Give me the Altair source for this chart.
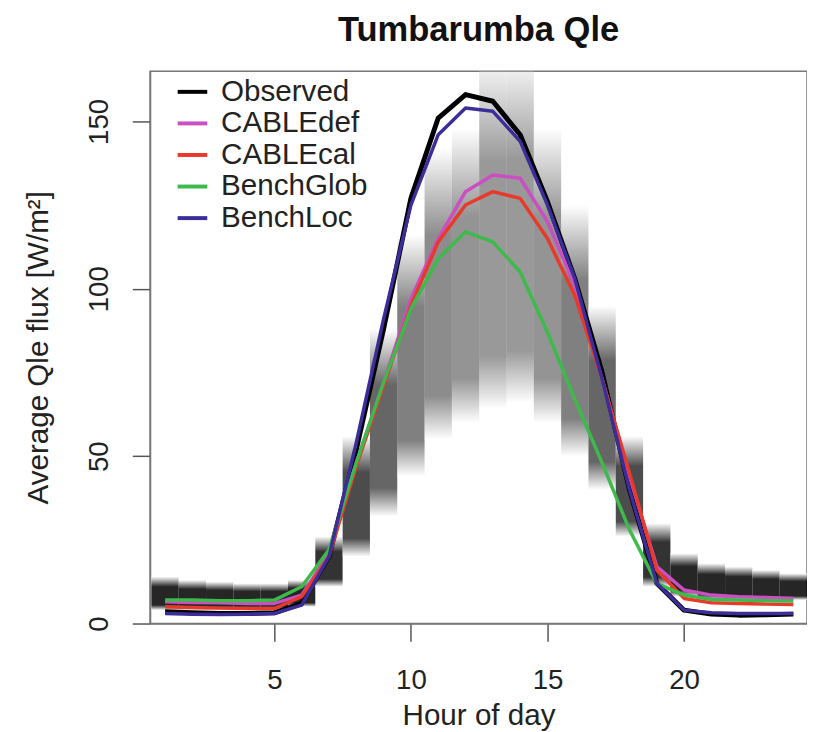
import altair as alt
import pandas as pd

# ---------------- data ----------------
hours = list(range(1, 25))

observed  = [3.5, 3.2, 3.0, 3.0, 3.2, 6.0, 20, 52, 88, 127, 151, 158, 156, 146, 126, 103, 75, 40, 12, 4.0, 2.8, 2.5, 2.6, 2.8]
cable_def = [6.5, 6.3, 6.2, 6.0, 6.0, 8.5, 21, 48, 72, 97, 115, 129, 134, 133, 120, 101, 73, 44, 17, 10, 8.5, 8.0, 7.8, 7.5]
cable_cal = [5.0, 4.8, 4.6, 4.5, 4.5, 8.0, 20, 47, 71, 95, 114, 125, 129, 127, 115, 98, 73, 45, 16, 7.5, 6.2, 6.0, 5.8, 5.7]
bench_glob = [7.0, 7.0, 6.8, 6.8, 7.0, 11, 22, 48, 72, 94, 109, 117, 114, 105, 87, 67, 48, 28, 12, 8.5, 7.2, 7.0, 6.8, 6.7]
bench_loc = [3.0, 2.8, 2.7, 2.8, 3.0, 5.5, 20, 54, 91, 125, 146, 154, 153, 144, 125, 103, 73, 40, 12, 4.0, 3.2, 3.0, 3.0, 3.0]

series_names = ["Observed", "CABLEdef", "CABLEcal", "BenchGlob", "BenchLoc"]
series_colors = ["#000000", "#c94fc2", "#e8392b", "#3dba4b", "#3b2d9a"]

# grey ensemble density columns (extent per hour and darkness)
shade_lo = [4, 4, 4, 4, 4, 5, 11, 20, 32, 44, 55, 60, 64, 66, 60, 50, 40, 26, 11, 8, 7, 7, 7, 7]
shade_hi = [14, 13, 12.5, 12, 12, 13, 26, 56, 88, 116, 142, 148, 170, 170, 148, 125, 95, 56, 30, 21, 18, 17, 16, 15]
shade_dark = [0.85, 0.85, 0.85, 0.85, 0.85, 0.85, 0.8, 0.7, 0.6, 0.5, 0.45, 0.42, 0.4, 0.4, 0.42, 0.5, 0.6, 0.7, 0.8, 0.85, 0.85, 0.85, 0.85, 0.85]

# ---------------- tables ----------------
series_values = [observed, cable_def, cable_cal, bench_glob, bench_loc]
rows = []
for name, vals in zip(series_names, series_values):
    for h, v in zip(hours, vals):
        rows.append({"hour": h, "value": v, "series": name})
lines_df = pd.DataFrame(rows)

band_df = pd.DataFrame({"hour": hours, "lo": shade_lo, "hi": shade_hi, "dark": shade_dark})

FONT = "Liberation Sans"

xscale = alt.Scale(domain=[0.45, 24.5], nice=False, zero=False)
yscale = alt.Scale(domain=[0, 165], nice=False, zero=True)

grad = alt.LinearGradient(
    gradient="linear",
    stops=[
        alt.GradientStop(color="white", offset=0),
        alt.GradientStop(color="black", offset=0.3),
        alt.GradientStop(color="black", offset=0.85),
        alt.GradientStop(color="white", offset=1),
    ],
    x1=0, x2=0, y1=0, y2=1,
)

bands = alt.Chart(band_df).transform_calculate(
    h0="datum.hour - 0.5", h1="datum.hour + 0.5"
).mark_rect(color=grad, clip=True).encode(
    x=alt.X("h0:Q", scale=xscale,
            axis=alt.Axis(values=[5, 10, 15, 20], title="Hour of day")),
    x2="h1:Q",
    y=alt.Y("lo:Q", scale=yscale,
            axis=alt.Axis(values=[0, 50, 100, 150], title="Average Qle flux [W/m²]")),
    y2="hi:Q",
    opacity=alt.Opacity("dark:Q", scale=None, legend=None),
)

lines = alt.Chart(lines_df).mark_line(clip=True, strokeJoin="round").encode(
    x=alt.X("hour:Q", scale=xscale),
    y=alt.Y("value:Q", scale=yscale),
    color=alt.Color(
        "series:N",
        scale=alt.Scale(domain=series_names, range=series_colors),
        sort=series_names,
        legend=alt.Legend(
            title=None, orient="none", legendX=26, legendY=4,
            symbolType="stroke", symbolSize=900, symbolStrokeWidth=4,
            labelFontSize=30, labelFont=FONT, labelColor="#222",
            rowPadding=0, labelOffset=12,
        ),
    ),
    order=alt.Order("hour:Q"),
    strokeWidth=alt.condition(alt.datum.series == "Observed", alt.value(5), alt.value(3.5)),
)

chart = alt.layer(bands, lines).properties(
    width=666, height=560,
    title=alt.TitleParams("Tumbarumba Qle", fontSize=35, font=FONT, fontWeight="bold",
                          anchor="middle", offset=24, color="#111"),
    padding={"left": 15, "top": 0, "right": 0, "bottom": 0},
).configure_view(
    stroke="#777", strokeWidth=1.5
).configure_axis(
    grid=False, labelFont=FONT, titleFont=FONT,
    labelColor="#222", titleColor="#222", titleFontWeight="normal",
    tickSize=18, tickColor="#555", tickWidth=1.5, domainColor="#777", domainWidth=1.5,
).configure_axisX(
    labelFontSize=28, titleFontSize=30,
    labelPadding=26, titlePadding=6, labelAngle=0,
).configure_axisY(
    labelFontSize=28, titleFontSize=30,
    labelAngle=270, labelAlign="center", labelBaseline="bottom", labelPadding=19,
    titlePadding=33,
)

chart.save("out.html", embed_options={"renderer": "svg", "actions": False})
